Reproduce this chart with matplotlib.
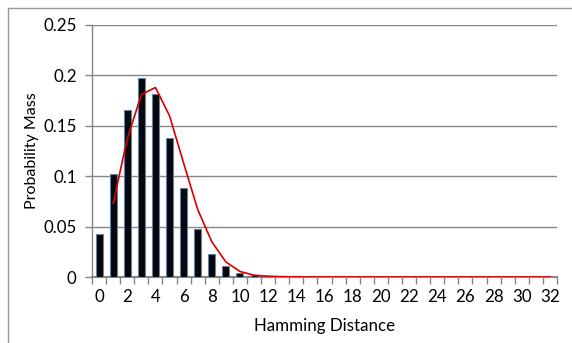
import numpy as np
import matplotlib
matplotlib.use("Agg")
import matplotlib.pyplot as plt
from matplotlib.lines import Line2D

distance = list(range(33))
tick_labels = [str(d) for d in range(0, 33, 2)]
observed = [0.043, 0.102, 0.166, 0.197, 0.182, 0.138, 0.088, 0.048, 0.023, 0.0105,
            0.0035, 0.0015, 0.001, 0.001, 0.001, 0.001, 0.001, 0.001] + [0.0] * 15
model = [np.nan, 0.073, 0.137, 0.181, 0.188, 0.160, 0.113, 0.067, 0.035, 0.015,
         0.0055, 0.0018, 0.0008, 0.0003, 0.0001] + [0.0] * 18
y_ticks = [0, 0.05, 0.1, 0.15, 0.2, 0.25]
y_tick_labels = ["0", "0.05", "0.1", "0.15", "0.2", "0.25"]

plt.rcParams['font.family'] = ['Lato', 'DejaVu Sans']
W, H = 572, 343
fig = plt.figure(figsize=(W / 100, H / 100), dpi=100)
ax = fig.add_axes([92 / W, 1 - 277 / H, (557 - 92) / W, (277 - 25) / H])

grey = '#868686'
ax.bar(distance, observed, width=0.5, color='#05080f', edgecolor='#6a7f99', linewidth=0.8, zorder=3)
ax.plot(distance, model, color='#d40000', linewidth=1.2, zorder=4)

fs = 12.2
ax.set_xlim(-0.5, 32.5)
ax.set_ylim(0, 0.25)
ax.set_yticks(y_ticks)
ax.set_yticklabels(y_tick_labels, fontsize=fs)
ax.set_xticks(list(range(0, 33, 2)))
ax.set_xticklabels(tick_labels, fontsize=fs)
ax.set_xticks(np.arange(-0.5, 33, 1), minor=True)
ax.tick_params(axis='x', which='major', length=0, pad=9)
ax.tick_params(axis='x', which='minor', length=5, color=grey, width=1, direction='out')
ax.tick_params(axis='y', length=5, color=grey, width=1, direction='out', pad=6)
ax.yaxis.grid(True, color=grey, linewidth=1)
ax.set_axisbelow(True)
for s in ['top', 'right']:
    ax.spines[s].set_visible(False)
ax.spines['left'].set_color(grey)
ax.spines['bottom'].set_color(grey)
ax.spines['bottom'].set_linewidth(1.5)
ax.spines['left'].set_linewidth(1.0)

ax.set_xlabel("Hamming Distance", fontsize=fs, labelpad=9)
ax.set_ylabel("Probability Mass", fontsize=11.5, labelpad=3)

# chart border (top and left visible)
fig.add_artist(Line2D([8 / W, 1.0], [1 - 8 / H, 1 - 8 / H], color='#9a9a9a', linewidth=1.0, transform=fig.transFigure))
fig.add_artist(Line2D([8 / W, 8 / W], [0, 1 - 8 / H], color='#9a9a9a', linewidth=1.0, transform=fig.transFigure))

fig.savefig("out.png", dpi=100)
